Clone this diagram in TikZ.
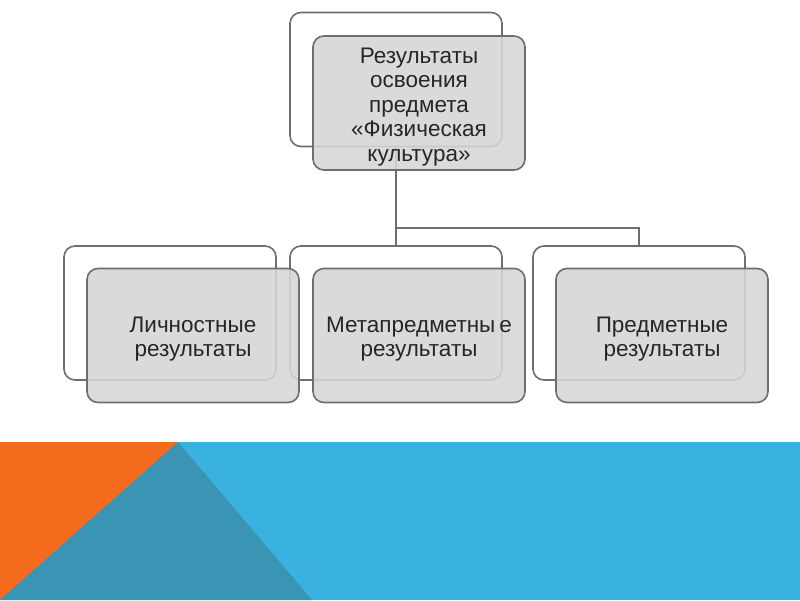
\documentclass[tikz,border=0pt]{standalone}
\usepackage{fontspec}
\setmainfont{Liberation Sans}
\definecolor{boxline}{HTML}{6E6E6E}
\definecolor{boxfill}{HTML}{D6D6D6}
\definecolor{txt}{HTML}{262626}
\definecolor{orangeband}{HTML}{F56B1E}
\definecolor{darkband}{HTML}{3A94B3}
\definecolor{lightband}{HTML}{3AB2DF}
% shift text down by #1 (extra height = 2 x shift)
\newcommand{\boxtext}[2][4pt]{\raisebox{0pt}[\dimexpr\height+2\dimexpr#1\relax\relax][\depth]{\begin{tabular}{@{}c@{}}#2\end{tabular}}}
\begin{document}
\begin{tikzpicture}[x=1pt,y=-1pt,
  backbox/.style={draw=boxline, line width=1.6pt, rounded corners=11pt,
    minimum width=212pt, minimum height=134pt, fill=white, inner sep=0pt},
  frontbox/.style={backbox, fill=boxfill, fill opacity=0.88, text opacity=1,
    text=txt, font=\fontsize{22.5}{24.5}\selectfont},
  conn/.style={draw=boxline, line width=1.6pt}]
\useasboundingbox (0,0) rectangle (800,600);
% bottom band
\fill[lightband] (0,442) rectangle (800,600);
\fill[orangeband] (0,442) -- (178,442) -- (0,600) -- cycle;
\fill[darkband] (178,442) -- (312,600) -- (0,600) -- cycle;
% back boxes
\node[backbox] (tb) at (396,79.5) {};
\node[backbox] (lb) at (170,313) {};
\node[backbox] (mb) at (396,313) {};
\node[backbox] (rb) at (639,313) {};
% connectors
\coordinate (jn) at (396,228);
\draw[conn] (tb.south) -- (mb.north);
\draw[conn] (jn) -| (rb.north);
% front boxes
\node[frontbox] (tf) at (419,103) {\boxtext[4.5pt]{Результаты\\освоения\\предмета\\«Физическая\\культура»}};
\node[frontbox] (lf) at (193,335.5) {\boxtext{Личностные\\результаты}};
\node[frontbox] (mf) at (419,335.5) {\boxtext{Метапредметны\kern4pt е\\результаты}};
\node[frontbox] (rf) at (662,335.5) {\boxtext{Предметные\\результаты}};
\end{tikzpicture}
\end{document}
